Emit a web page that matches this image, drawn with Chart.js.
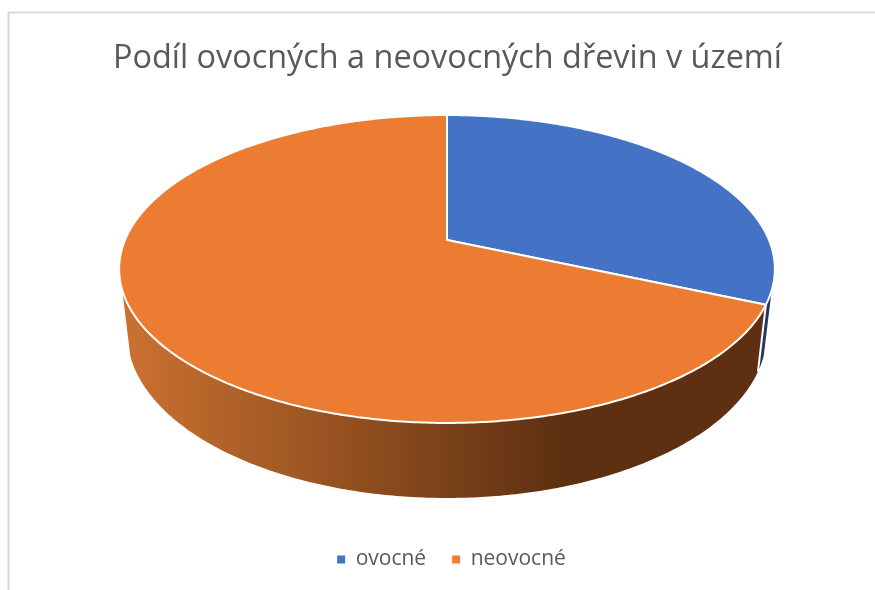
<!DOCTYPE html>
<html><head><meta charset="utf-8">
<style>html,body{margin:0;padding:0;background:#fff}canvas{display:block}</style>
<script src="https://cdn.jsdelivr.net/npm/chart.js@4"></script>
</head><body><canvas id="c" width="875" height="590"></canvas>
<script>
const categories = ['ovocné', 'neovocné'];
const values = [31.6, 68.4];
const titleText = 'Podíl ovocných a neovocných dřevin v území';
const topColors = ['#4472C4', '#EB7C31'];

// perspective of the tilted disc
const top_ = {cx: 447, K: 322, a: -103.3, b: 240, c: 0.1883};
const bot_ = {cx: 447, K: 314, a: -101.7, b: 302.5, c: 0.1883};
const silhouette = 71.5 * Math.PI / 180; // rim angle past which the wall is hidden

function proj(p, ang, r = 1) {
  const s = r * Math.cos(ang), t = -r * Math.sin(ang);
  const w = 1 + p.c * t;
  return [p.cx + p.K * s / w, (p.a * t + p.b) / w];
}
function rim(ctx, p, a0, a1, move) {
  const n = Math.max(2, Math.ceil(Math.abs(a1 - a0) / 0.01));
  for (let i = 0; i <= n; i++) {
    const q = proj(p, a0 + (a1 - a0) * i / n);
    if (i === 0 && move) ctx.moveTo(q[0], q[1]); else ctx.lineTo(q[0], q[1]);
  }
}
function wall(ctx, a0, a1, fill) {
  ctx.beginPath();
  rim(ctx, top_, a0, a1, true);
  rim(ctx, bot_, a1, a0, false);
  ctx.closePath();
  ctx.fillStyle = fill;
  ctx.fill();
}
const pie3d = {
  id: 'pie3d',
  afterLayout(chart) {
    chart.legend.left += 4;
    chart.legend.right += 4;
  },
  beforeDraw(chart) {
    const {ctx} = chart;
    ctx.save();
    ctx.strokeStyle = '#D9D9D9';
    ctx.lineWidth = 2;
    ctx.beginPath();
    ctx.moveTo(8.5, 590); ctx.lineTo(8.5, 12.5); ctx.lineTo(875, 12.5);
    ctx.stroke();
    ctx.restore();
  },
  beforeDatasetDraw(chart, args) {
    const {ctx} = chart;
    const arcs = chart.getDatasetMeta(args.index).data;
    const front0 = Math.PI / 2 - silhouette;          // right silhouette angle
    const front1 = Math.PI / 2 + silhouette;          // left silhouette angle
    const grad = ctx.createLinearGradient(121, 0, 560, 0);
    grad.addColorStop(0, '#CC7230');
    grad.addColorStop(1, '#5E3011');
    ctx.save();
    ctx.lineJoin = 'round';
    const colors = ['#1F3864', grad];
    // side walls first
    arcs.forEach((el, i) => {
      const a0 = Math.max(el.startAngle, front0);
      const a1 = Math.min(el.endAngle, front1);
      if (a1 <= a0) return;
      wall(ctx, a0, a1, colors[i]);
      // separator at the start of the visible wall
      if (el.startAngle > front0) {
        const p = proj(top_, a0), q = proj(bot_, a0);
        ctx.strokeStyle = '#fff'; ctx.lineWidth = 2;
        ctx.beginPath(); ctx.moveTo(p[0], p[1]); ctx.lineTo(q[0], q[1]); ctx.stroke();
      }
    });
    // top face
    arcs.forEach((el, i) => {
      ctx.beginPath();
      const o = proj(top_, 0, 0);
      ctx.moveTo(o[0], o[1]);
      rim(ctx, top_, el.startAngle, el.endAngle, false);
      ctx.closePath();
      ctx.fillStyle = topColors[i];
      ctx.fill();
      ctx.strokeStyle = '#fff';
      ctx.lineWidth = 2;
      ctx.stroke();
    });
    ctx.restore();
    return false;
  }
};
new Chart(document.getElementById('c'), {
  type: 'pie',
  data: {labels: categories, datasets: [{data: values, backgroundColor: topColors, borderWidth: 0}]},
  plugins: [pie3d],
  options: {
    responsive: false,
    animation: false,
    layout: {padding: {left: 20, top: 39, bottom: 10}},
    plugins: {
      title: {display: true, text: titleText, color: '#595959',
        font: {family: '"Open Sans"', size: 32.4, weight: 'normal'}, padding: {top: 0, bottom: 10}},
      legend: {position: 'bottom',
        labels: {color: '#595959', font: {family: '"Open Sans"', size: 21},
          boxWidth: 8, boxHeight: 8, padding: 26}},
      tooltip: {enabled: false}
    }
  }
});
</script></body></html>
